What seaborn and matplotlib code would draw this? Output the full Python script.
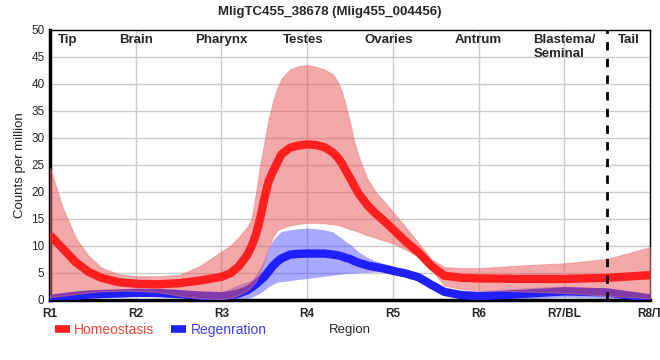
import numpy as np
import pandas as pd
import matplotlib
matplotlib.use("Agg")
import matplotlib.pyplot as plt
from matplotlib.lines import Line2D
import seaborn as sns

# --- data (x = region index, R1=0 ... R8/T=7) ---
pos = [0, 0.15, 0.3, 0.45, 0.6, 0.8, 1.0, 1.25, 1.5, 1.75,
       2.0, 2.1, 2.2, 2.3, 2.35, 2.4, 2.45, 2.5, 2.55, 2.6, 2.65, 2.7, 2.8, 2.9,
       3.0, 3.1, 3.2, 3.3, 3.35, 3.4, 3.45, 3.5, 3.55, 3.6, 3.7, 3.8, 3.9,
       4.0, 4.15, 4.3, 4.45, 4.6, 4.8, 5.0, 5.5, 6.0, 6.5, 7.0]

homeo_mean = [12.0, 9.5, 7.0, 5.2, 4.1, 3.3, 3.0, 2.9, 3.1, 3.6,
              4.3, 4.9, 6.2, 8.3, 9.9, 12.0, 15.0, 18.8, 22.0, 23.8, 25.4, 27.0, 28.2, 28.6,
              28.8, 28.7, 28.3, 27.3, 26.5, 25.4, 24.0, 22.6, 21.1, 19.7, 17.6, 16.0, 14.6,
              13.1, 10.8, 8.8, 6.3, 4.5, 4.1, 4.0, 3.9, 3.9, 4.1, 4.6]
homeo_hi = [24.5, 17.0, 11.5, 8.2, 6.0, 4.8, 4.4, 4.4, 4.6, 6.3,
            9.0, 10.0, 11.6, 13.5, 15.0, 19.5, 25.0, 29.2, 33.5, 36.7, 39.2, 41.0, 42.7, 43.3,
            43.5, 43.2, 42.7, 41.8, 40.6, 38.8, 36.0, 32.8, 29.3, 26.6, 22.5, 20.0, 18.2,
            16.3, 13.5, 10.5, 7.5, 6.1, 5.9, 5.9, 6.4, 6.8, 7.6, 9.8]
homeo_lo = [0.5, 0.8, 1.1, 1.4, 1.6, 1.7, 1.7, 1.5, 0.8, 0.3,
            0.2, 0.4, 0.9, 1.8, 2.5, 3.4, 5.0, 7.0, 9.5, 11.7, 12.9, 13.3, 13.8, 14.1,
            14.3, 14.3, 14.2, 14.0, 13.9, 13.7, 13.4, 13.1, 12.9, 12.6, 12.0, 11.5, 11.0,
            10.5, 9.3, 8.0, 5.5, 2.7, 2.0, 1.8, 1.6, 1.3, 0.8, 0.3]

regen_mean = [0.2, 0.5, 0.8, 1.0, 1.1, 1.2, 1.3, 1.3, 1.1, 0.8,
              0.7, 0.9, 1.2, 1.8, 2.3, 2.9, 3.6, 4.3, 5.3, 6.3, 7.1, 7.7, 8.4, 8.55,
              8.6, 8.6, 8.6, 8.4, 8.3, 8.1, 7.8, 7.6, 7.2, 6.9, 6.4, 6.1, 5.8,
              5.4, 4.9, 4.2, 2.8, 1.5, 0.9, 0.7, 1.1, 1.6, 1.4, 0.3]
regen_hi = [0.8, 1.1, 1.4, 1.6, 1.7, 1.8, 1.9, 1.9, 1.8, 1.7,
            1.5, 2.2, 2.8, 3.4, 3.7, 4.6, 6.0, 7.6, 9.6, 11.0, 12.0, 12.7, 13.0, 13.2,
            13.3, 13.2, 13.0, 12.6, 12.0, 11.5, 10.8, 10.3, 9.6, 8.9, 7.9, 7.2, 6.7,
            6.3, 5.5, 4.6, 3.0, 2.0, 1.7, 1.7, 2.2, 2.6, 2.2, 0.8]
regen_lo = [-0.6, -0.2, 0.1, 0.3, 0.5, 0.6, 0.7, 0.6, 0.4, 0.1,
            0.1, 0.1, 0.1, 0.3, 0.5, 0.9, 1.3, 1.8, 2.5, 2.9, 3.3, 3.4, 3.6, 3.8,
            4.0, 4.2, 4.4, 4.6, 4.7, 4.8, 4.9, 4.95, 5.0, 5.05, 5.1, 5.2, 5.2,
            5.2, 4.6, 4.0, 2.6, 1.0, 0.3, 0.1, 0.2, 0.5, 0.3, -0.3]

tick_labels = ["R1", "R2", "R3", "R4", "R5", "R6", "R7/BL", "R8/T"]
tissue_names = ["Tip", "Brain", "Pharynx", "Testes", "Ovaries", "Antrum",
                "Blastema/\nSeminal", "Tail"]
tissue_pos = [0.2, 1.0, 2.0, 2.95, 3.95, 5.0, 6.0, 6.75]

df = pd.DataFrame({
    "Region": pos * 2,
    "cpm": homeo_mean + regen_mean,
    "Condition": ["Homeostasis"] * len(pos) + ["Regenration"] * len(pos),
})

sns.set_style("whitegrid")
plt.rcParams["font.family"] = ["Liberation Sans", "DejaVu Sans"]

red_line = "#ff1f1f"
blue_line = "#1f1fff"

fig = plt.figure(figsize=(6.6, 3.6), dpi=100)
ax = fig.add_axes([0.0758, 0.1667, 0.9092, 0.75])

# regeneration first, homeostasis band drawn over it
ax.fill_between(pos, regen_lo, regen_hi, color="#4040ff", alpha=0.45, lw=0, zorder=2)
sns.lineplot(data=df[df.Condition == "Regenration"], x="Region", y="cpm",
             color=blue_line, lw=6, ax=ax, zorder=3, legend=False)
ax.fill_between(pos, homeo_lo, homeo_hi, color="#e85555", alpha=0.5, lw=0.8,
                edgecolor="#e87878", zorder=4)
sns.lineplot(data=df[df.Condition == "Homeostasis"], x="Region", y="cpm",
             color=red_line, lw=6, ax=ax, zorder=5, legend=False)
for l in ax.lines:
    l.set_solid_capstyle("butt")
    l.set_solid_joinstyle("round")

ax.axvline(6.5, color="black", ls=(0, (3, 3)), lw=2, zorder=6)

ax.set_xlim(0, 7)
ax.set_ylim(0, 50)
ax.set_xticks(range(8))
ax.set_xticklabels(tick_labels, fontweight="bold", fontsize=8.5)
ax.set_yticks(range(0, 51, 5))
ax.tick_params(axis="y", labelsize=8.5, length=3, width=1, pad=1)
ax.tick_params(axis="x", length=4, width=1, pad=2)
ax.grid(color="#cccccc", lw=1)

for side in ["top", "right"]:
    ax.spines[side].set_color("black")
    ax.spines[side].set_linewidth(1)
for side in ["left", "bottom"]:
    ax.spines[side].set_color("black")
    ax.spines[side].set_linewidth(2.5)

for name, xp in zip(tissue_names, tissue_pos):
    ax.text(xp, 49.2, name, ha="center", va="top", fontsize=9.5,
            fontweight="bold", linespacing=1.15, multialignment="left", zorder=7)

ax.set_ylabel("Counts per million", fontsize=9.5, labelpad=4)
ax.set_xlabel("")
fig.text(0.53, 0.083, "Region", ha="center", va="center", fontsize=9.5)
fig.text(0.5, 0.968, "MligTC455_38678 (Mlig455_004456)", ha="center",
         va="center", fontsize=9.5, fontweight="bold")

handles = [Line2D([], [], color=red_line, lw=5.5, solid_capstyle="butt"),
           Line2D([], [], color=blue_line, lw=5.5, solid_capstyle="butt")]
leg = fig.legend(handles, ["Homeostasis", "Regenration"], loc="center left",
                 bbox_to_anchor=(0.083, 0.083), ncol=2, frameon=False,
                 fontsize=10, handlelength=1.1, handletextpad=0.3,
                 columnspacing=1.2, borderpad=0, borderaxespad=0)
leg.get_texts()[0].set_color("#ff4040")
leg.get_texts()[1].set_color("#4040ff")

fig.savefig("out.png", dpi=100)
